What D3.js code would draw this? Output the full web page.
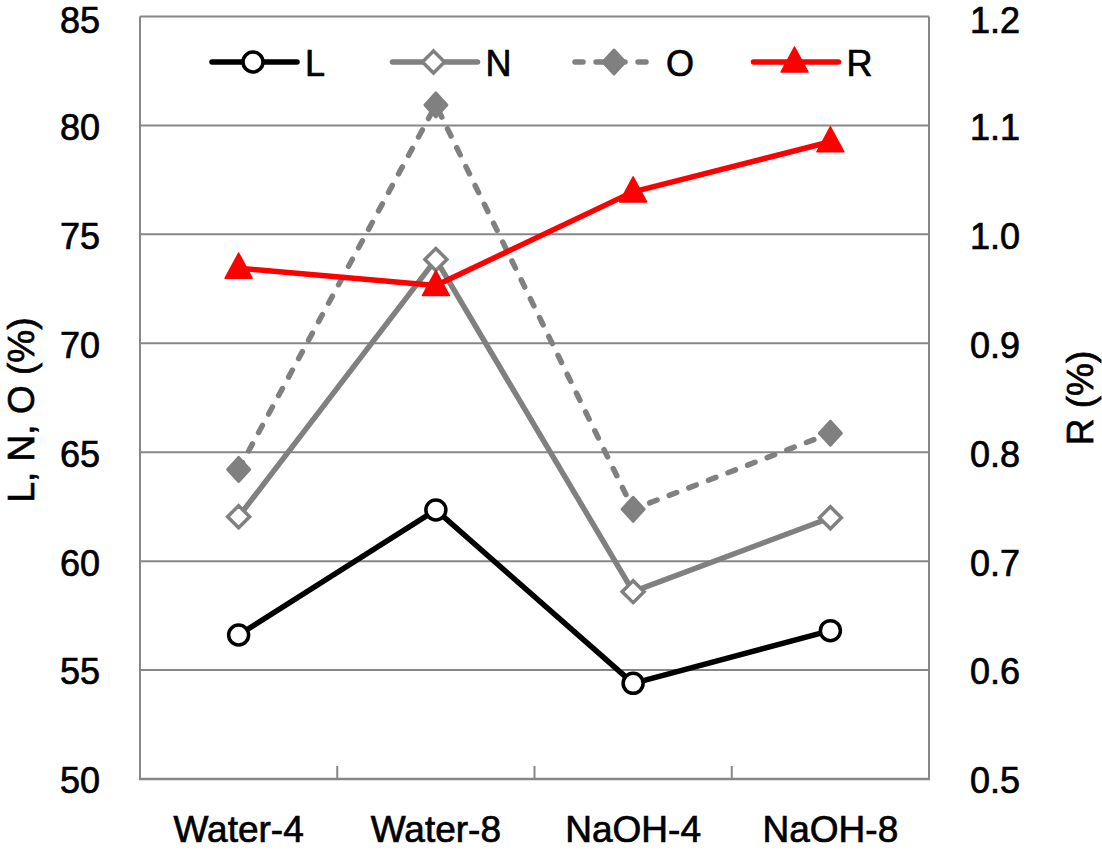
<!DOCTYPE html>
<html><head><meta charset="utf-8">
<script src="https://cdn.jsdelivr.net/npm/d3@7"></script>
<style>body{margin:0;background:#fff}svg{display:block}text{font-family:"Liberation Sans",Arial,sans-serif;fill:#000;stroke:#000;stroke-width:0.7px}</style>
</head><body>
<svg id="c" width="1102" height="850"></svg>
<script>
const categories = ["Water-4","Water-8","NaOH-4","NaOH-8"];
const L = [56.61, 62.35, 54.39, 56.81];
const N = [62.04, 73.85, 58.60, 61.99];
const O = [64.21, 80.94, 62.38, 65.87];
const R = [0.969, 0.953, 1.039, 1.085];
const leftTicks = [50,55,60,65,70,75,80,85];
const rightTicks = [0.5,0.6,0.7,0.8,0.9,1.0,1.1,1.2];
const seriesNames = ["L","N","O","R"];

const svg = d3.select("#c");
const m = {l:140, r:929, t:16.5, b:779};
const x = d3.scaleBand().domain(categories).range([m.l, m.r]);
const yL = d3.scaleLinear().domain([50,85]).range([m.b, m.t]);
const yR = d3.scaleLinear().domain([0.5,1.2]).range([m.b, m.t]);
const grid = "#878787";
const fs = 36;
const base = y => Math.max(y + 0.4*fs, 33);

// gridlines
svg.append("g").selectAll("line").data(leftTicks.slice(1)).join("line")
  .attr("x1", m.l).attr("x2", m.r).attr("y1", d=>yL(d)).attr("y2", d=>yL(d))
  .attr("stroke", grid).attr("stroke-width", 2);
// frame
svg.append("line").attr("x1",m.l).attr("x2",m.l).attr("y1",m.t).attr("y2",m.b).attr("stroke",grid).attr("stroke-width",2);
svg.append("line").attr("x1",m.r).attr("x2",m.r).attr("y1",m.t).attr("y2",m.b).attr("stroke",grid).attr("stroke-width",2);
svg.append("line").attr("x1",m.l-1).attr("x2",m.r+1).attr("y1",m.b).attr("y2",m.b).attr("stroke",grid).attr("stroke-width",2.5);
// category boundary ticks
svg.append("g").selectAll("line").data(categories.slice(1)).join("line")
  .attr("x1", d=>x(d)).attr("x2", d=>x(d)).attr("y1", m.b-13).attr("y2", m.b)
  .attr("stroke", grid).attr("stroke-width", 2);

// axis labels
svg.append("g").selectAll("text").data(leftTicks).join("text")
  .attr("x", 100).attr("y", d=>base(yL(d))).attr("text-anchor","end")
  .attr("font-size", fs).text(d=>d);
svg.append("g").selectAll("text").data(rightTicks).join("text")
  .attr("x", 970).attr("y", d=>base(yR(d))).attr("text-anchor","start")
  .attr("font-size", fs).text(d=>d.toFixed(1));
svg.append("g").selectAll("text").data(categories).join("text")
  .attr("x", d=>x(d)+x.bandwidth()/2).attr("y", 842).attr("text-anchor","middle")
  .attr("font-size", 37).text(d=>d);
svg.append("text").attr("transform","translate(34,410) rotate(-90)").attr("text-anchor","middle")
  .attr("font-size", 37).text("L, N, O (%)");
svg.append("text").attr("transform","translate(1093,398) rotate(-90)").attr("text-anchor","middle")
  .attr("font-size", 37).text("R (%)");

const cx = (d,i) => x(categories[i]) + x.bandwidth()/2;
function drawLine(vals, ys, color, dash){
  const line = d3.line().x((d,i)=>cx(d,i)).y(d=>ys(d));
  const p = svg.append("path").datum(vals).attr("d", line).attr("fill","none")
    .attr("stroke", color).attr("stroke-width", 5.5).attr("stroke-linejoin","round");
  if (dash) p.attr("stroke-dasharray", dash).attr("stroke-linecap","round");
}
function marker(g, type, px, py){
  if (type==="L") g.append("circle").attr("cx",px).attr("cy",py).attr("r",10).attr("fill","#fff").attr("stroke","#000").attr("stroke-width",3.5);
  else if (type==="N") g.append("path").attr("d",`M${px},${py-11}L${px+11},${py}L${px},${py+11}L${px-11},${py}Z`).attr("fill","#fff").attr("stroke","#808080").attr("stroke-width",3.5);
  else if (type==="O") g.append("path").attr("d",`M${px},${py-12}L${px+11},${py}L${px},${py+12}L${px-11},${py}Z`).attr("fill","#808080").attr("stroke","#808080").attr("stroke-width",3).attr("stroke-linejoin","round");
  else g.append("path").attr("d",`M${px},${py-15}L${px+13.5},${py+10}L${px-13.5},${py+10}Z`).attr("fill","#ff0000").attr("stroke","#ff0000").attr("stroke-width",1.5).attr("stroke-linejoin","round");
}

drawLine(O, yL, "#808080", "8,13");
drawLine(N, yL, "#808080");
drawLine(L, yL, "#000");
drawLine(R, yR, "#ff0000");
const mg = svg.append("g");
O.forEach((d,i)=>marker(mg,"O",cx(d,i),yL(d)));
N.forEach((d,i)=>marker(mg,"N",cx(d,i),yL(d)));
L.forEach((d,i)=>marker(mg,"L",cx(d,i),yL(d)));
R.forEach((d,i)=>marker(mg,"R",cx(d,i),yR(d)));

// legend
const colors = {L:"#000", N:"#808080", O:"#808080", R:"#ff0000"};
const lg = svg.append("g");
seriesNames.forEach((s,i)=>{
  const x0 = 212 + i*180.5, ly = 62;
  const ln = lg.append("line").attr("x1",x0).attr("x2",x0+85).attr("y1",ly).attr("y2",ly)
    .attr("stroke",colors[s]).attr("stroke-width",5.5).attr("stroke-linecap","round");
  if (s==="O") ln.attr("stroke-dasharray","8,13").attr("x1",x0+2).attr("x2",x0+78);
  marker(lg, s, x0+41, ly);
  lg.append("text").attr("x", x0+93).attr("y", base(ly)).attr("font-size",fs).text(s);
});
</script>
</body></html>
